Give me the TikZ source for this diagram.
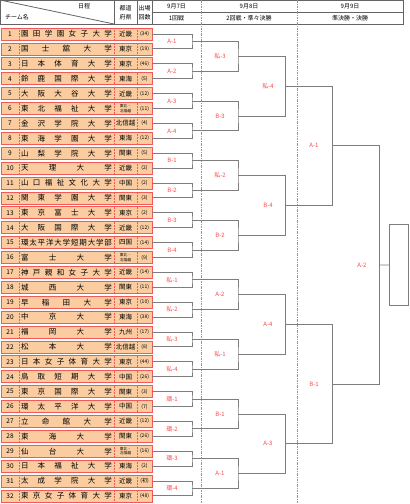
\documentclass[tikz,border=0pt]{standalone}
\usepackage{fontspec}
\setmainfont{Noto Sans CJK JP}
\usetikzlibrary{math}

\definecolor{rowfill}{RGB}{250,204,160}
\definecolor{rowline}{RGB}{242,90,90}
\definecolor{gamered}{RGB}{255,70,70}
\definecolor{bracket}{RGB}{125,125,125}
\definecolor{hdline}{RGB}{100,100,100}

\newcommand{\tohokuhs}{\parbox{22pt}{\centering\fontsize{3.8}{4.4}\selectfont 東北・\\北信越}}

\tikzstyle{team} = [draw=rowline, fill=rowfill, line width=0.8pt, minimum width=151pt, minimum height=12pt, inner sep=0pt]
\tikzstyle{cellsep} = [draw=rowline, line width=0.5pt, densely dotted]
\tikzstyle{num} = [inner sep=0pt, font=\fontsize{6.5}{7}\selectfont]
\tikzstyle{nm} = [inner sep=0pt, font=\fontsize{7.5}{8}\selectfont]
\tikzstyle{pf} = [inner sep=0pt, font=\fontsize{6.5}{7}\selectfont]
\tikzstyle{cnt} = [inner sep=0pt, font=\fontsize{5}{6}\selectfont]
\tikzstyle{game} = [inner sep=0.5pt, text=gamered, font=\fontsize{6}{7}\selectfont]
\tikzstyle{l} = [draw=bracket, line width=0.9pt]
\tikzstyle{dayline} = [draw=bracket!80, line width=0.8pt, dash pattern=on 2.5pt off 1pt on 1pt off 1pt]
\tikzstyle{hdbox} = [draw=hdline, line width=0.8pt]
\tikzstyle{hd} = [inner sep=0pt, font=\fontsize{6}{9}\selectfont, align=center]

\begin{document}
\begin{tikzpicture}[x=1pt, y=-1pt]
    \useasboundingbox (0,0) rectangle (410,504);

    % header
    \draw[hdbox] (0,0) rectangle (403,24);
    \draw[hdbox] (0,0) -- (114,24);
    \draw[hdbox] (114,0) -- (114,24) (137,0) -- (137,24) (152,0) -- (152,24) (152,12) -- (403,12);
    \node[hd] (sched) at (84,6.5) {日程};
    \node[hd] (tname) at (17,17) {チーム名};
    \node[hd] (pref) at (125.5,12.5) {都道\\府県};
    \node[hd] (apps) at (144.5,12.5) {出場\\回数};
    \node[hd] (d7) at (176.5,6) {9月7日};
    \node[hd] (r7) at (176.5,18) {1回戦};
    \node[hd] (d8) at (249,6) {9月8日};
    \node[hd] (r8) at (249,18) {2回戦・準々決勝};
    \node[hd] (d9) at (350,6) {9月9日};
    \node[hd] (r9) at (350,18) {準決勝・決勝};
    \draw[dayline] (201,0) -- (201,504);
    \draw[dayline] (297,0) -- (297,504);

    % teams
    \foreach \i/\nm/\pf/\ct in {
        1/園 田 学 園 女 子 大 学/近畿/34,
        2/国 士 舘 大 学/東京/19,
        3/日 本 体 育 大 学/東京/46,
        4/鈴 鹿 国 際 大 学/東海/5,
        5/大 阪 大 谷 大 学/近畿/12,
        6/東 北 福 祉 大 学/\tohokuhs/11,
        7/金 沢 学 院 大 学/北信越/4,
        8/東 海 学 園 大 学/東海/12,
        9/山 梨 学 院 大 学/関東/5,
        10/天 理 大 学/近畿/2,
        11/山 口 福 祉 文 化 大 学/中国/2,
        12/関 東 学 園 大 学/関東/3,
        13/東 京 富 士 大 学/東京/2,
        14/大 阪 国 際 大 学/近畿/12,
        15/環\hfill 太\hfill 平\hfill 洋\hfill 大\hfill 学\hfill 短\hfill 期\hfill 大\hfill 学\hfill 部/四国/14,
        16/富 士 大 学/\tohokuhs/9,
        17/神 戸 親 和 女 子 大 学/近畿/14,
        18/城 西 大 学/関東/11,
        19/早 稲 田 大 学/東京/10,
        20/中 京 大 学/東海/38,
        21/福 岡 大 学/九州/17,
        22/松 本 大 学/北信越/8,
        23/日 本 女 子 体 育 大 学/東京/44,
        24/鳥 取 短 期 大 学/中国/26,
        25/東 京 国 際 大 学/関東/3,
        26/環 太 平 洋 大 学/中国/7,
        27/立 命 館 大 学/近畿/12,
        28/東 海 大 学/関東/26,
        29/仙 台 大 学/\tohokuhs/16,
        30/日 本 福 祉 大 学/東海/2,
        31/太 成 学 院 大 学/近畿/初,
        32/東 京 女 子 体 育 大 学/東京/48} {
        \tikzmath{\y = 34 + (\i-1)*14.9;}
        \node[team] (t\i) at (76.5,\y) {};
        \draw[cellsep] (19,\y-6) -- (19,\y+6) (114,\y-6) -- (114,\y+6) (137,\y-6) -- (137,\y+6);
        \node[num] (n\i) at (10,\y) {\i};
        \node[nm] (s\i) at (66.5,\y) {\makebox[91pt][s]{\nm}};
        \node[pf] (p\i) at (125.5,\y) {\pf};
        \node[cnt] (a\i) at (144.5,\y) {(\ct)};
    }

    % 1回戦
    \foreach \g [count=\k] in {A-1,A-2,A-3,A-4,B-1,B-2,B-3,B-4,私-1,私-2,私-3,私-4,環-1,環-2,環-3,環-4} {
        \tikzmath{\a = int(2*\k-1); \b = int(2*\k); \ym = 34 + (2*\k-1.5)*14.9;}
        \coordinate (c1-\k) at (192,\ym);
        \draw[l] (t\a.east) -| (c1-\k) |- (t\b.east);
        \node[game] (g1-\k) at (172,\ym) {\g};
    }
    % 2回戦
    \foreach \g [count=\k] in {私-3,B-3,私-2,B-2,A-2,私-1,B-1,A-1} {
        \tikzmath{\a = int(2*\k-1); \b = int(2*\k); \ym = 34 + (4*\k-2.5)*14.9;}
        \coordinate (c2-\k) at (238,\ym);
        \draw[l] (c1-\a) -| (c2-\k) |- (c1-\b);
        \node[game] (g2-\k) at (220,\ym) {\g};
    }
    % 準々決勝
    \foreach \g [count=\k] in {私-4,B-4,A-4,A-3} {
        \tikzmath{\a = int(2*\k-1); \b = int(2*\k); \ym = 34 + (8*\k-4.5)*14.9;}
        \coordinate (c3-\k) at (285.7,\ym);
        \draw[l] (c2-\a) -| (c3-\k) |- (c2-\b);
        \node[game] (g3-\k) at (268,\ym) {\g};
    }
    % 準決勝
    \foreach \g [count=\k] in {A-1,B-1} {
        \tikzmath{\a = int(2*\k-1); \b = int(2*\k); \ym = 34 + (16*\k-8.5)*14.9;}
        \coordinate (c4-\k) at (332.7,\ym);
        \draw[l] (c3-\a) -| (c4-\k) |- (c3-\b);
        \node[game] (g4-\k) at (314,\ym) {\g};
    }
    % 決勝
    \coordinate (c5) at (379.3,264.95);
    \node[draw=bracket, line width=0.9pt, minimum width=19pt, minimum height=81pt, inner sep=0pt] (champ) at (398.8,265) {};
    \draw[l] (c4-1) -| (c5) |- (c4-2);
    \draw[l] (c5) -- (champ.west);
    \node[game] (g5) at (362,264.95) {A-2};
\end{tikzpicture}
\end{document}
